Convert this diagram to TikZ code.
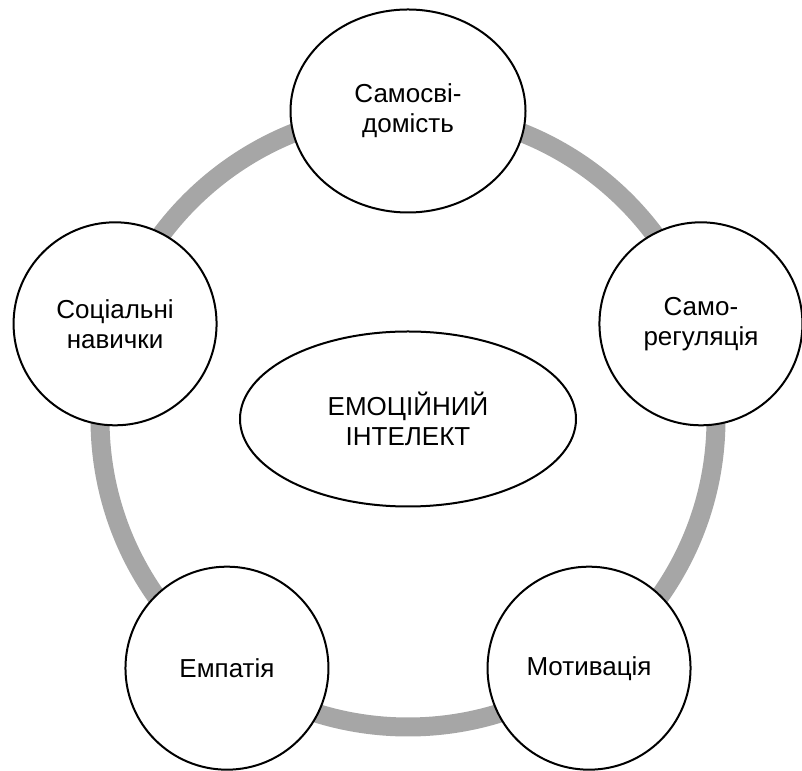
\documentclass[tikz,border=0pt]{standalone}
\usepackage{fontspec}
\setmainfont{Liberation Sans}
\usetikzlibrary{shapes.geometric}
\definecolor{ringgray}{RGB}{166,166,166}

\begin{document}
\begin{tikzpicture}[line cap=round,line join=round,x=1pt,y=1pt,
	skill/.style={circle,draw=black,line width=2pt,fill=white,minimum size=203pt,inner sep=0pt,align=center,font=\fontsize{26}{30}\selectfont},
	core/.style={ellipse,draw=black,line width=2pt,fill=white,minimum width=336pt,minimum height=175pt,inner sep=0pt,align=center,font=\fontsize{26}{30}\selectfont}]

		\useasboundingbox (0,0) rectangle (802,770);
		\coordinate (c) at (408,351);

		%kільце
		\draw[color=ringgray,line width=19pt] (c) circle [radius=308];

		%центр
		\node[core] (ei) at (c) {ЕМОЦІЙНИЙ\\ІНТЕЛЕКТ};

		%складові
		\node[skill,ellipse,minimum width=235pt,minimum height=203pt] (aware) at ([shift={(90:308)}]c) {Самосві-\\домість};
		\node[skill] (regul) at ([shift={(18:308)}]c) {Само-\\регуляція};
		\node[skill] (motiv) at ([shift={(-54:308)}]c) {Мотивація};
		\node[skill] (empat) at ([shift={(-126:308)}]c) {Емпатія};
		\node[skill] (social) at ([shift={(162:308)}]c) {Соціальні\\навички};

	\end{tikzpicture}
\end{document}
